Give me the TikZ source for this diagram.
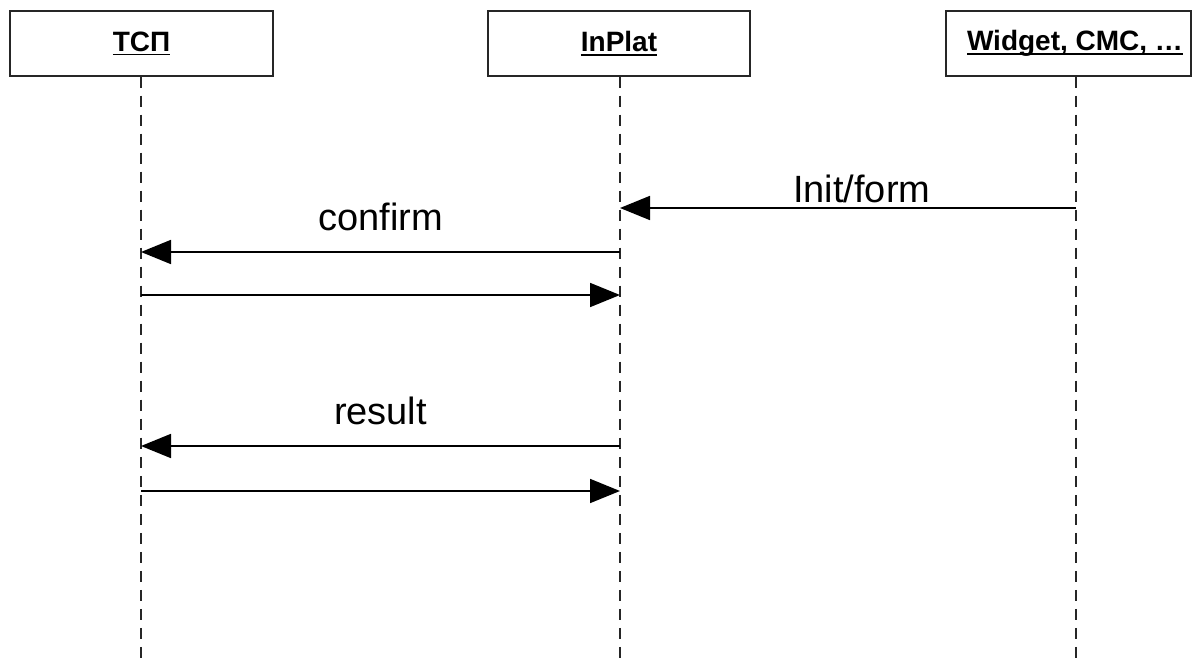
\documentclass[tikz,border=0pt]{standalone}
\usepackage{fontspec}
\setmainfont{Liberation Sans}
\usetikzlibrary{arrows.meta}
\newcommand\actorname[1]{\setbox0\hbox{#1}\rlap{\rule[-4pt]{\wd0}{1.6pt}}\box0}
\tikzset{
  actor/.style={draw=black!85, line width=1.5pt, fill=white, minimum height=65pt, inner sep=0pt,
    font=\fontsize{28}{32}\selectfont\bfseries},
  lifeline/.style={draw=black!85, line width=1.8pt, dash pattern=on 11pt off 8pt},
  msg/.style={line width=1.8pt, -{Triangle[length=30pt,width=24pt]}},
  msglabel/.style={font=\fontsize{38}{44}\selectfont, inner sep=0pt}
}
\begin{document}
\begin{tikzpicture}[x=1pt,y=-1pt]
  \useasboundingbox (0,0) rectangle (1195,660);

  \node[actor, minimum width=263pt] (tsp) at (141.5,43.5) {\actorname{ТСП}};
  \node[actor, minimum width=262pt] (inplat) at (619,43.5) {\actorname{InPlat}};
  \node[actor, minimum width=245pt] (widget) at (1068.5,43.5) {\hspace*{13pt}\actorname{Widget, CMC, \dots}};

  \foreach \a/\x in {tsp/141, inplat/620, widget/1076}
    \draw[lifeline] (\x,0 |- \a.south) -- (\x,660);

  \draw[msg] (1076,208) -- (620,208) node[msglabel, pos=0.47, above=4pt] {Init/form};
  \draw[msg] (620,252) -- (141,252) node[msglabel, midway, above=20pt] {confirm};
  \draw[msg] (141,295) -- (620,295);
  \draw[msg] (620,446) -- (141,446) node[msglabel, midway, above=20pt] {result};
  \draw[msg] (141,491) -- (620,491);
\end{tikzpicture}
\end{document}
